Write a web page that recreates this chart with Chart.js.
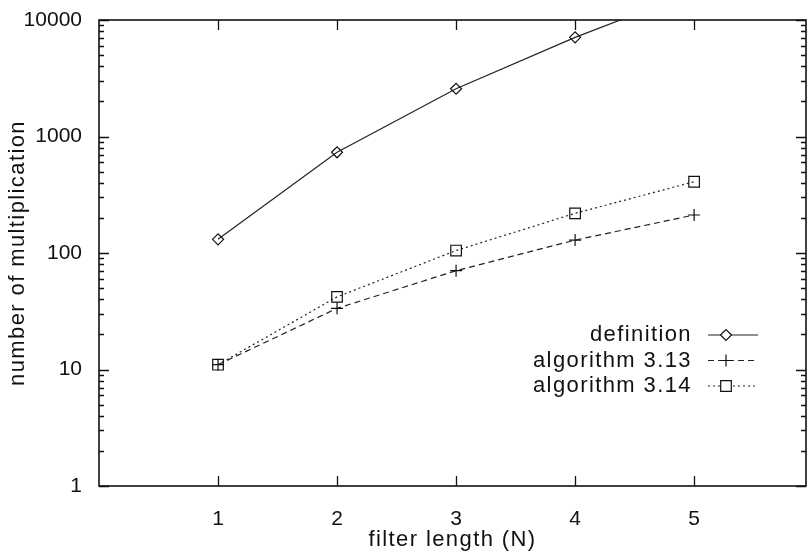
<!DOCTYPE html>
<html>
<head>
<meta charset="utf-8">
<style>
  html, body { margin: 0; padding: 0; background: #fff; }
  canvas { display: block; }
</style>
<script src="https://cdn.jsdelivr.net/npm/chart.js@4/dist/chart.umd.min.js"></script>
</head>
<body>
<canvas id="c" width="808" height="553"></canvas>
<script>
// Multiplication counts versus filter length N
const filterLengths   = [1, 2, 3, 4, 5];
const definitionMults = [131, 732, 2570, 7100, 17500];
const alg313Mults     = [11, 33.5, 70.5, 129, 212];
const alg314Mults     = [11, 42, 105, 219, 409];
const seriesNames     = ['definition', 'algorithm 3.13', 'algorithm 3.14'];
const xTickValues     = [1, 2, 3, 4, 5];
const yTickValues     = [1, 10, 100, 1000, 10000];

const FONT = '"Liberation Sans", Arial, sans-serif';
const INK = '#111';
const WIDE = '1.4px';   // extra tracking for titles and key text

const toPoints = vals => filterLengths.map((n, i) => ({ x: n, y: vals[i] }));

// Titles are drawn with a little tracking; tick labels without
const trackingPlugin = {
  id: 'tracking',
  beforeDraw(chart) { chart.ctx.letterSpacing = WIDE; },
  beforeDatasetsDraw(chart) { chart.ctx.letterSpacing = '0px'; }
};

// Closed frame with inward tick marks on all four sides
const framePlugin = {
  id: 'frame',
  afterDatasetsDraw(chart) {
    const { ctx, chartArea: a, scales: { x, y } } = chart;
    ctx.save();
    ctx.strokeStyle = INK;
    ctx.setLineDash([]);
    ctx.lineWidth = 1.6;
    ctx.strokeRect(a.left, a.top, a.right - a.left, a.bottom - a.top);
    ctx.lineWidth = 1.3;
    ctx.beginPath();
    const lo = Math.floor(Math.log10(y.min));
    const hi = Math.round(Math.log10(y.max));
    for (let e = lo; e <= hi; e++) {
      for (let m = 1; m <= 9; m++) {
        const v = m * Math.pow(10, e);
        if (v < y.min || v > y.max) continue;
        const py = Math.round(y.getPixelForValue(v)) + 0.5;
        const len = m === 1 ? 10 : 5;
        ctx.moveTo(a.left, py); ctx.lineTo(a.left + len, py);
        ctx.moveTo(a.right, py); ctx.lineTo(a.right - len, py);
      }
    }
    xTickValues.forEach(v => {
      const px = Math.round(x.getPixelForValue(v)) + 0.5;
      ctx.moveTo(px, a.bottom); ctx.lineTo(px, a.bottom - 10);
      ctx.moveTo(px, a.top); ctx.lineTo(px, a.top + 10);
    });
    ctx.stroke();
    ctx.restore();
  }
};

// Key inside the plot: right-aligned names followed by a line sample with its marker
const keyPlugin = {
  id: 'key',
  afterDatasetsDraw(chart) {
    const { ctx } = chart;
    const textRight = 692, lineL = 708, lineR = 758, markX = 726, firstRow = 335, rowGap = 25.5;
    ctx.save();
    ctx.font = '22px ' + FONT;
    ctx.letterSpacing = WIDE;
    ctx.textAlign = 'right';
    ctx.textBaseline = 'middle';
    chart.data.datasets.forEach((ds, i) => {
      const yy = firstRow + i * rowGap;
      ctx.fillStyle = INK;
      ctx.fillText(ds.label, textRight, yy);
      ctx.strokeStyle = ds.borderColor;
      ctx.lineWidth = ds.borderWidth;
      ctx.setLineDash(ds.borderDash || []);
      ctx.beginPath();
      ctx.moveTo(lineL, yy); ctx.lineTo(lineR, yy);
      ctx.stroke();
      ctx.setLineDash([]);
      ctx.fillStyle = '#fff';
      ctx.strokeStyle = ds.pointBorderColor;
      ctx.lineWidth = ds.pointBorderWidth;
      Chart.helpers.drawPoint(ctx, {
        pointStyle: ds.pointStyle, radius: ds.pointRadius,
        borderWidth: ds.pointBorderWidth, rotation: 0
      }, markX, yy);
    });
    ctx.restore();
    ctx.letterSpacing = '0px';
  }
};

const series = (label, vals, dash, style, radius) => ({
  label,
  data: toPoints(vals),
  borderColor: '#222',
  borderWidth: 1.2,
  borderDash: dash,
  pointStyle: style,
  pointRadius: radius,
  pointHoverRadius: radius,
  pointBorderColor: '#111',
  pointBorderWidth: 1.2,
  pointBackgroundColor: 'rgba(0,0,0,0)',
  tension: 0,
  fill: false
});

// Fixed axis boxes so the plot frame sits at a known place
const noEdgePadding = s => { s.paddingTop = 0; s.paddingBottom = 0; s.paddingLeft = 0; s.paddingRight = 0; };

new Chart(document.getElementById('c'), {
  type: 'line',
  data: {
    datasets: [
      series(seriesNames[0], definitionMults, [], 'rectRot', 5.5),
      series(seriesNames[1], alg313Mults, [6, 4], 'cross', 6),
      series(seriesNames[2], alg314Mults, [2, 3], 'rect', 7.5)
    ]
  },
  options: {
    responsive: false,
    animation: false,
    devicePixelRatio: 1,
    layout: { autoPadding: false, padding: { top: 20, right: 2, left: 0, bottom: 0 } },
    plugins: { legend: { display: false }, tooltip: { enabled: false } },
    scales: {
      x: {
        type: 'linear',
        min: 0,
        max: 5.94,
        grid: { display: false },
        border: { display: false },
        afterBuildTicks: s => { s.ticks = xTickValues.map(v => ({ value: v })); },
        afterFit: s => { s.height = 67; noEdgePadding(s); },
        ticks: {
          z: 1, autoSkip: false, maxRotation: 0, padding: 13,
          color: INK, font: { family: FONT, size: 21 },
          callback: v => String(v)
        },
        title: {
          display: true, text: 'filter length (N)', color: INK,
          font: { family: FONT, size: 22 }, padding: { top: 0, bottom: 0 }
        }
      },
      y: {
        type: 'logarithmic',
        min: 1,
        max: 10000,
        grid: { display: false },
        border: { display: false },
        afterBuildTicks: s => { s.ticks = yTickValues.map(v => ({ value: v, major: true })); },
        afterFit: s => { s.width = 99; noEdgePadding(s); },
        ticks: {
          z: 1, autoSkip: false, padding: 9,
          color: INK, font: { family: FONT, size: 21 },
          callback: v => String(v)
        },
        title: {
          display: true, text: 'number of multiplication', color: INK,
          font: { family: FONT, size: 22 }, padding: { top: 5, bottom: 0 }
        }
      }
    }
  },
  plugins: [trackingPlugin, framePlugin, keyPlugin]
});
</script>
</body>
</html>
